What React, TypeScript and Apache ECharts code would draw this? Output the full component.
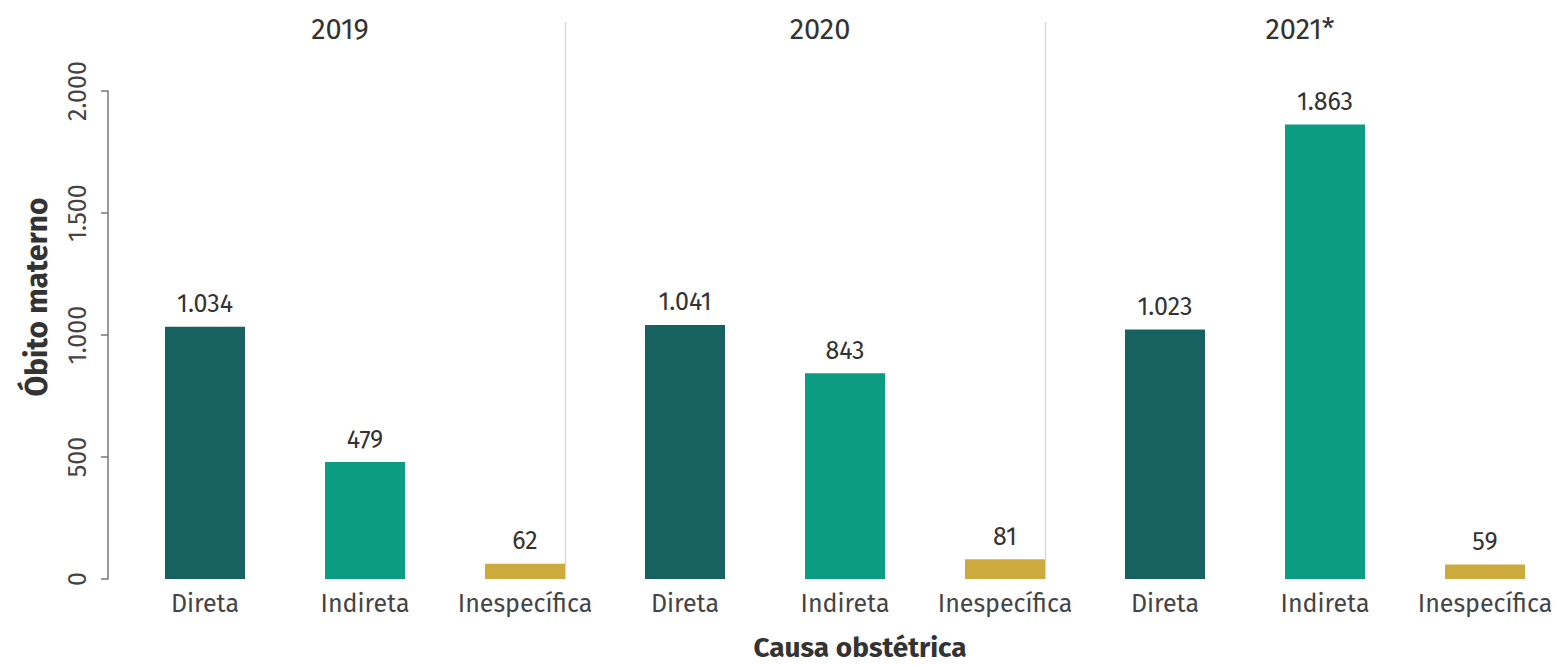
import React, { useEffect, useRef } from "react";
import * as echarts from "echarts";

const causes = ["Direta", "Indireta", "Inespecífica"];
const years = ["2019", "2020", "2021*"];
const values2019 = [1034, 479, 62];
const values2020 = [1041, 843, 81];
const values2021 = [1023, 1863, 59];
const yTicks = [0, 500, 1000, 1500, 2000];
const causeColors = ["#176161", "#0c9c84", "#cdaa3e"];

const FONT = "'Fira Sans', 'Noto Sans', sans-serif";

function fmt(v: number): string {
  return String(v).replace(/\B(?=(\d{3})+(?!\d))/g, ".");
}

export default function App() {
  const ref = useRef<HTMLDivElement>(null);
  useEffect(() => {
    document.body.style.margin = "0";
    if (!ref.current) return;
    const chart = echarts.init(ref.current, undefined, { renderer: "svg" });
    const allValues = [values2019, values2020, values2021];
    const categories: string[] = [];
    const data: any[] = [];
    years.forEach((y, yi) => {
      causes.forEach((c, ci) => {
        categories.push(c + "|" + y);
        data.push({ value: allValues[yi][ci], itemStyle: { color: causeColors[ci] } });
      });
    });
    const barWidth = 80;
    chart.setOption({
      animation: false,
      grid: { left: 125, right: 2, top: 91, bottom: 86, outerBoundsMode: "none", containLabel: false },
      xAxis: {
        type: "category",
        data: categories,
        axisLine: { show: false },
        axisTick: { show: false },
        axisLabel: {
          interval: 0,
          hideOverlap: false,
          formatter: (v: string) => v.split("|")[0],
          fontFamily: FONT,
          fontSize: 25,
          color: "#444",
          margin: 12,
        },
        name: "Causa obstétrica",
        nameLocation: "middle",
        nameGap: 54,
        nameTextStyle: {
          fontFamily: FONT,
          fontSize: 28,
          fontWeight: "bold",
          color: "#333",
          padding: [0, 0, 0, 30],
        },
      },
      yAxis: {
        type: "value",
        min: yTicks[0],
        max: yTicks[yTicks.length - 1],
        interval: 500,
        offset: 17,
        splitLine: { show: false },
        axisLine: { show: true, lineStyle: { color: "#777", width: 1.5 } },
        axisTick: { show: true, length: 7, lineStyle: { color: "#777", width: 1.5 } },
        axisLabel: {
          rotate: 90,
          formatter: (v: number) => fmt(v),
          fontFamily: FONT,
          fontSize: 25,
          color: "#444",
          margin: 18,
        },
      },
      series: [
        {
          type: "bar",
          data,
          barWidth,
          label: {
            show: true,
            position: "top",
            distance: 10,
            formatter: (p: any) => fmt(p.value),
            fontFamily: FONT,
            fontSize: 25,
            color: "#333",
          },
        },
      ],
    });

    const graphics: any[] = [];
    const yBottom = chart.convertToPixel({ yAxisIndex: 0 }, 0) as number;
    years.forEach((y, yi) => {
      const xInd = chart.convertToPixel({ xAxisIndex: 0 }, yi * 3 + 1) as number;
      graphics.push({
        type: "text",
        x: xInd - 25,
        y: 29,
        style: {
          text: y,
          font: `29px ${FONT}`,
          fill: "#333",
          textAlign: "center",
          textVerticalAlign: "middle",
        },
      });
      if (yi < years.length - 1) {
        const xIn = chart.convertToPixel({ xAxisIndex: 0 }, yi * 3 + 2) as number;
        const sx = Math.round(xIn + barWidth / 2) + 0.5;
        graphics.push({
          type: "line",
          shape: { x1: sx, y1: 22, x2: sx, y2: yBottom },
          style: { stroke: "#d8d8d8", lineWidth: 1.5 },
        });
      }
    });
    graphics.push({
      type: "text",
      x: 37,
      y: 297,
      rotation: Math.PI / 2,
      style: {
        text: "Óbito materno",
        font: `bold 30px ${FONT}`,
        fill: "#333",
        textAlign: "center",
        textVerticalAlign: "middle",
      },
    });
    chart.setOption({ graphic: graphics });

    return () => chart.dispose();
  }, []);
  return <div ref={ref} style={{ width: 1567, height: 665 }} />;
}
